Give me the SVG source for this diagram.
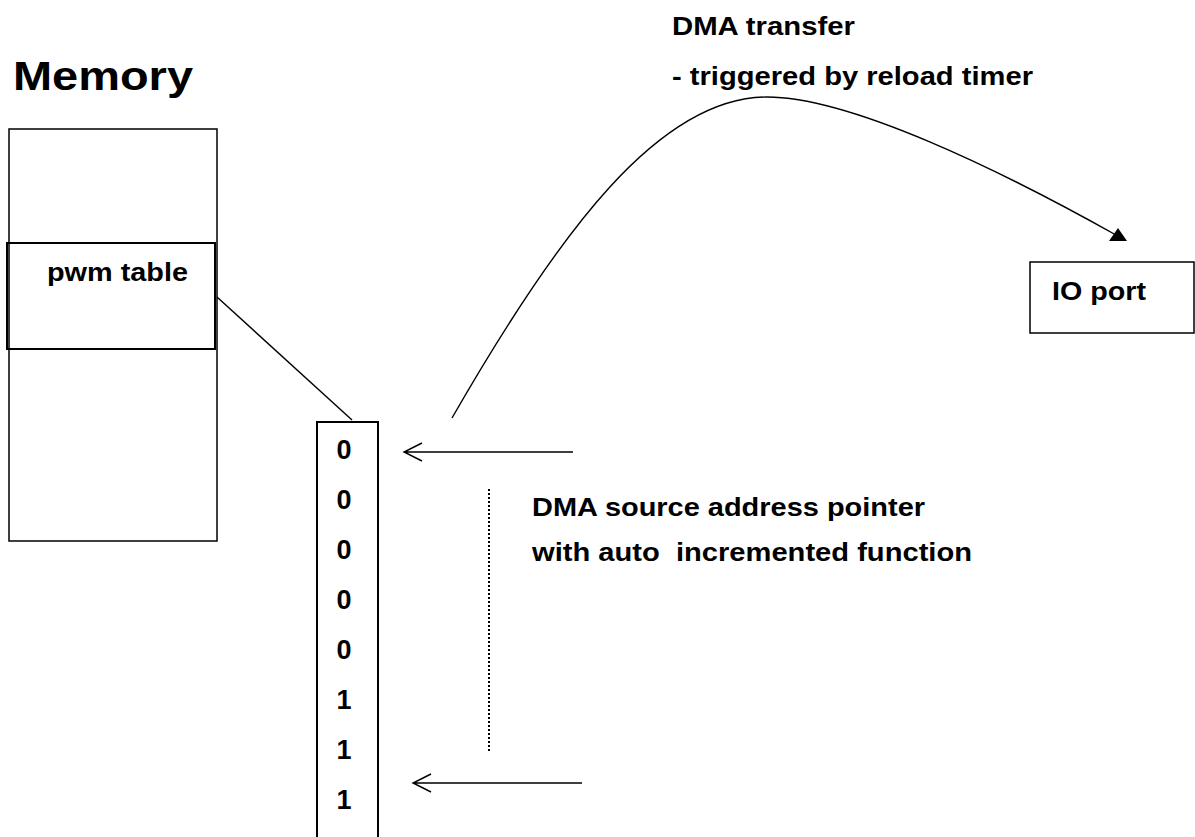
<svg xmlns="http://www.w3.org/2000/svg" width="1195" height="837" viewBox="0 0 1195 837">
  <style>
    .box { fill: none; stroke: #000; stroke-width: 1.5; }
    .thick { fill: none; stroke: #000; stroke-width: 2; }
    .ln { fill: none; stroke: #000; stroke-width: 1.4; }
    .dot { fill: none; stroke: #000; stroke-width: 2; stroke-dasharray: 2 2; }
    text { font-family: "Liberation Sans", Arial, sans-serif; font-weight: bold; fill: #000; }
    .lbl { font-size: 26px; }
    .bit { font-size: 27px; text-anchor: middle; }
  </style>

  <!-- Title -->
  <text x="13" y="90" font-size="40" textLength="180" lengthAdjust="spacingAndGlyphs">Memory</text>

  <!-- Memory block -->
  <g id="memory">
    <rect class="box" x="9" y="129" width="208" height="412"/>
  </g>

  <!-- PWM table region inside memory -->
  <g id="pwm-table">
    <rect class="thick" x="7" y="243" width="208" height="106"/>
    <text class="lbl" x="47" y="281" textLength="141" lengthAdjust="spacingAndGlyphs">pwm table</text>
  </g>

  <!-- Expanded table contents -->
  <g id="bit-column">
    <path class="thick" d="M317,845 V422 H378 V845"/>
    <text class="bit" x="344" y="459">0</text>
    <text class="bit" x="344" y="509">0</text>
    <text class="bit" x="344" y="559">0</text>
    <text class="bit" x="344" y="609">0</text>
    <text class="bit" x="344" y="659">0</text>
    <text class="bit" x="344" y="709">1</text>
    <text class="bit" x="344" y="759">1</text>
    <text class="bit" x="344" y="809">1</text>
  </g>

  <!-- IO port -->
  <g id="io-port">
    <rect class="box" x="1030" y="262" width="164" height="71"/>
    <text class="lbl" x="1052" y="300" textLength="94" lengthAdjust="spacingAndGlyphs">IO port</text>
  </g>

  <!-- Labels -->
  <g id="dma-transfer-label">
    <text class="lbl" x="672" y="35" textLength="183" lengthAdjust="spacingAndGlyphs">DMA transfer</text>
    <text class="lbl" x="672" y="85" textLength="361" lengthAdjust="spacingAndGlyphs">- triggered by reload timer</text>
  </g>
  <g id="pointer-label">
    <text class="lbl" x="532" y="516" textLength="393" lengthAdjust="spacingAndGlyphs">DMA source address pointer</text>
    <text class="lbl" x="532" y="561" textLength="440" lengthAdjust="spacingAndGlyphs" xml:space="preserve">with auto  incremented function</text>
  </g>

  <!-- Connectors -->
  <g id="connectors">
    <!-- zoom line from pwm table to column -->
    <line class="ln" x1="217" y1="297" x2="352" y2="420"/>
    <!-- DMA transfer curve -->
    <path class="ln" d="M452,418 C560,230 660,97 767,97 C850,97 1000,170 1116,235"/>
    <polygon points="1118,228 1109,241 1127,241" fill="#000"/>
    <!-- pointer arrows -->
    <path class="ln" d="M573,452 H404 M422,443 L404,452 L422,461"/>
    <path class="ln" d="M582,783 H413 M431,774 L413,783 L431,792"/>
    <!-- increment path -->
    <line class="dot" x1="489" y1="489" x2="489" y2="752"/>
  </g>
</svg>
